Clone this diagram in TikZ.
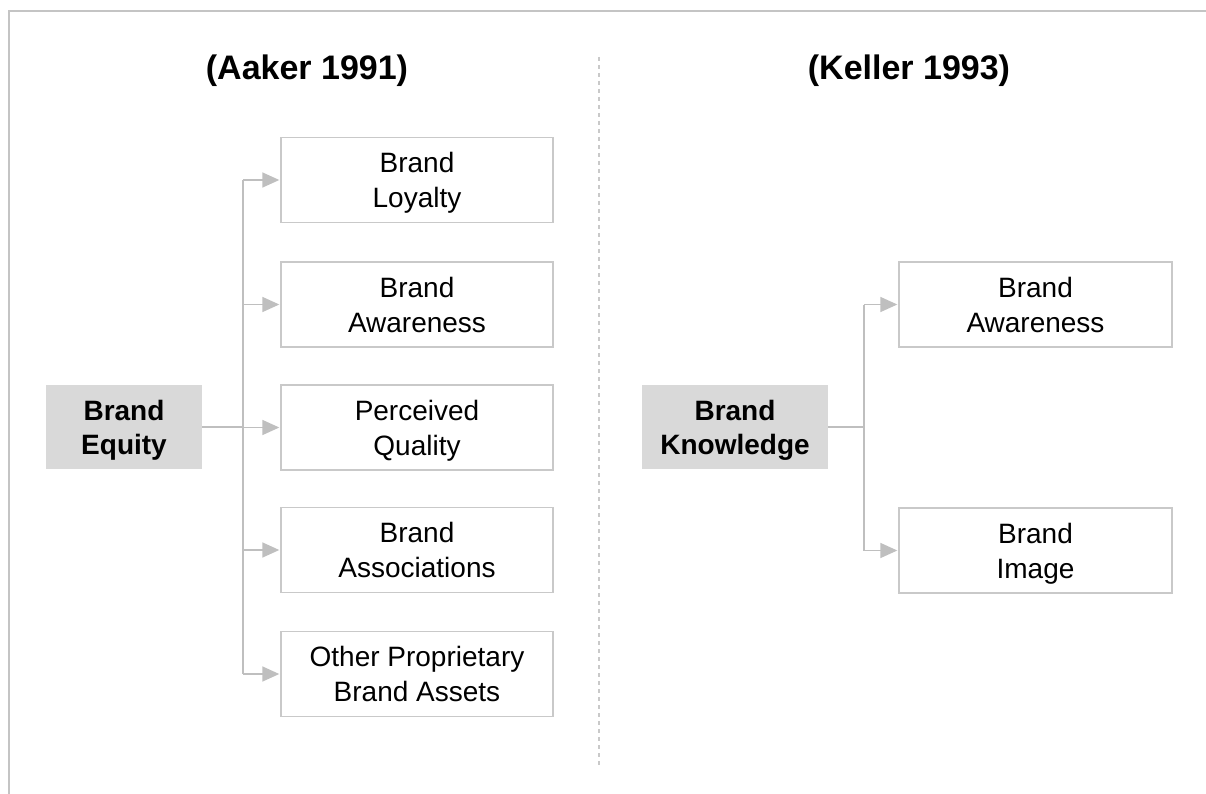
\documentclass[tikz,border=0pt]{standalone}
\usepackage{fontspec}
\setmainfont{Liberation Sans}
\usetikzlibrary{arrows.meta}
\definecolor{linegray}{HTML}{BFBFBF}
\definecolor{boxline}{HTML}{C9C9C9}
\definecolor{fillgray}{HTML}{D9D9D9}
\definecolor{framegray}{HTML}{C4C4C4}
\newcommand{\twolines}[2]{\rule{0pt}{26pt}#1\\#2\rule[-6pt]{0pt}{0pt}}
\tikzset{
  itembox/.style={draw=boxline, line width=1.4pt, fill=white, minimum width=272pt, minimum height=85pt,
    inner sep=0pt, align=center, font=\fontsize{28}{35}\selectfont},
  rootbox/.style={fill=fillgray, minimum height=84pt, inner sep=0pt, align=center,
    font=\fontsize{28}{34}\selectfont\bfseries},
  titletext/.style={font=\fontsize{34}{40}\selectfont\bfseries},
  conn/.style={draw=linegray, line width=1.6pt},
  arr/.style={conn, -{Triangle[length=17pt,width=15pt]}, shorten >=1pt},
  framestyle/.style={draw=framegray, line width=2pt},
  divider/.style={draw=boxline, line width=1.1pt, dash pattern=on 4pt off 4pt}
}
\begin{document}
\begin{tikzpicture}[x=1pt,y=-1pt]
\useasboundingbox (0,0) rectangle (1206,794);
% frame
\coordinate (fbl) at (9,794);
\coordinate (ftl) at (9,11);
\coordinate (ftr) at (1206,11);
\draw[framestyle] (fbl) -- (ftl) -- (ftr);
% divider
\coordinate (dtop) at (599,57);
\coordinate (dbot) at (599,766);
\draw[divider] (dtop) -- (dbot);
% titles
\node[titletext] (t1) at (307,71) {(Aaker 1991)};
\node[titletext] (t2) at (909,71) {(Keller 1993)};
% left side
\node[rootbox, minimum width=156pt] (eq) at (124,427) {\twolines{Brand}{Equity}};
\node[itembox] (b1) at (417,180) {\twolines{Brand}{Loyalty}};
\node[itembox] (b2) at (417,304.5) {\twolines{Brand}{Awareness}};
\node[itembox] (b3) at (417,427.5) {\twolines{Perceived}{Quality}};
\node[itembox] (b4) at (417,550) {\twolines{Brand}{Associations}};
\node[itembox] (b5) at (417,674) {\twolines{Other Proprietary}{Brand Assets}};
\coordinate (tl) at (243,427);
\draw[conn] (eq.east) -- (eq.east -| tl);
\draw[conn] (b1.west -| tl) -- (b5.west -| tl);
\foreach \b in {b1,b2,b3,b4,b5} \draw[arr] (\b.west -| tl) -- (\b.west);
% right side
\node[rootbox, minimum width=186pt] (kn) at (735,427) {\twolines{Brand}{Knowledge}};
\node[itembox, minimum width=273pt] (r1) at (1035.5,304.5) {\twolines{Brand}{Awareness}};
\node[itembox, minimum width=273pt] (r2) at (1035.5,550.5) {\twolines{Brand}{Image}};
\coordinate (tr) at (864,427);
\draw[conn] (kn.east) -- (kn.east -| tr);
\draw[conn] (r1.west -| tr) -- (r2.west -| tr);
\foreach \b in {r1,r2} \draw[arr] (\b.west -| tr) -- (\b.west);
\end{tikzpicture}
\end{document}
